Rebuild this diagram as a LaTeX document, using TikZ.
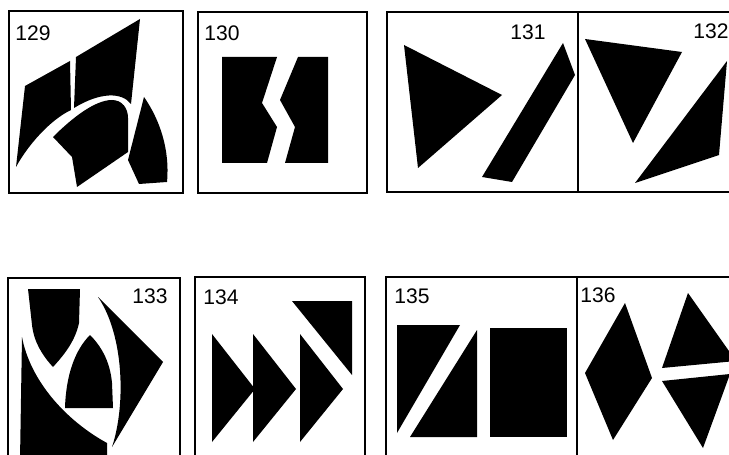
\documentclass[tikz,border=0pt]{standalone}
\usepackage{fontspec}
\setmainfont{Liberation Sans}
\tikzset{
  every picture/.style={line join=miter},
  frame/.style={draw=black, line width=2.5pt},
  piece/.style={fill=black},
  num/.style={font=\fontsize{18}{18}\selectfont, inner sep=0pt},
}
\begin{document}
\begin{tikzpicture}[x=0.03cm, y=-0.03cm]
  \useasboundingbox (0,0) rectangle (729,455);
  \clip (0,0) rectangle (729,455);
  \foreach \xa/\ya/\xb/\yb in {9/11/183/193, 198/12/367/193, 387/12/578/192, 578/12/760/192,
     8/278/180/480, 195/277/365/480, 386/277/577/480, 577/277/760/480} {
    \draw[frame] (\xa,\ya) rectangle (\xb,\yb);
  }
  \foreach \n/\x/\y in {129/33/33, 130/222/33, 131/528/32, 132/711/31,
     133/150/296, 134/221/297, 135/412/296, 136/598/295} {
    \node[num] (n\n) at (\x,\y) {\n};
  }
  % 129
  \fill[piece] (25,86) -- (70,61) -- (71,110) .. controls (50,120) and (28,145) .. (16,167) -- cycle;
  \fill[piece] (76,57) -- (140,19) -- (131,104) .. controls (122,92) and (100,92) .. (74,108) -- cycle;
  \fill[piece] (53,137) .. controls (72,118) and (95,100) .. (112,100) .. controls (122,100) and (128,108) .. (128,118)
    -- (128,152) -- (77,187) -- (72,157) -- cycle;
  \fill[piece] (144,97) .. controls (160,120) and (170,150) .. (167,182) -- (139,184) -- (128,160) -- cycle;
  % 130
  \fill[piece] (222,57) -- (277,57) -- (262,103) -- (277,127) -- (267,163) -- (222,163) -- cycle;
  \fill[piece] (298,57) -- (328,57) -- (328,163) -- (285,163) -- (295,127) -- (280,100) -- cycle;
  % 131
  \fill[piece] (404,45) -- (502,95) -- (418,168) -- cycle;
  \fill[piece] (563,43) -- (575,75) -- (512,182) -- (482,177) -- cycle;
  % 132
  \fill[piece] (585,39) -- (682,52) -- (633,143) -- cycle;
  \fill[piece] (727,61) -- (719,155) -- (635,183) -- cycle;
  % 133
  \fill[piece] (28,289) -- (80,289) -- (79,323) .. controls (75,342) and (63,356) .. (53,367)
    .. controls (42,355) and (34,342) .. (32,325) -- cycle;
  \fill[piece] (90,335) .. controls (75,350) and (66,375) .. (65,408) -- (113,408) -- (112,383)
    .. controls (110,360) and (100,345) .. (90,335) -- cycle;
  \fill[piece] (22,337) .. controls (30,380) and (65,420) .. (107,443) -- (107,460) -- (20,460) -- cycle;
  \fill[piece] (98,297) -- (163,362) -- (112,447) .. controls (126,405) and (124,335) .. (98,297) -- cycle;
  % 134
  \foreach \x in {212, 253, 300} {
    \fill[piece] (\x,334) -- (\x+43,389) -- (\x,442) -- cycle;
  }
  \fill[piece] (292,301) -- (352,301) -- (352,375) -- cycle;
  % 135
  \fill[piece] (397,325) -- (460,325) -- (397,433) -- cycle;
  \fill[piece] (477,330) -- (477,437) -- (410,437) -- cycle;
  \fill[piece] (490,328) rectangle (567,437);
  % 136
  \fill[piece] (625,303) -- (652,378) -- (613,440) -- (585,373) -- cycle;
  \fill[piece] (688,293) -- (736,361) -- (662,368) -- cycle;
  \fill[piece] (662,381) -- (730,374) -- (703,448) -- cycle;
\end{tikzpicture}
\end{document}
